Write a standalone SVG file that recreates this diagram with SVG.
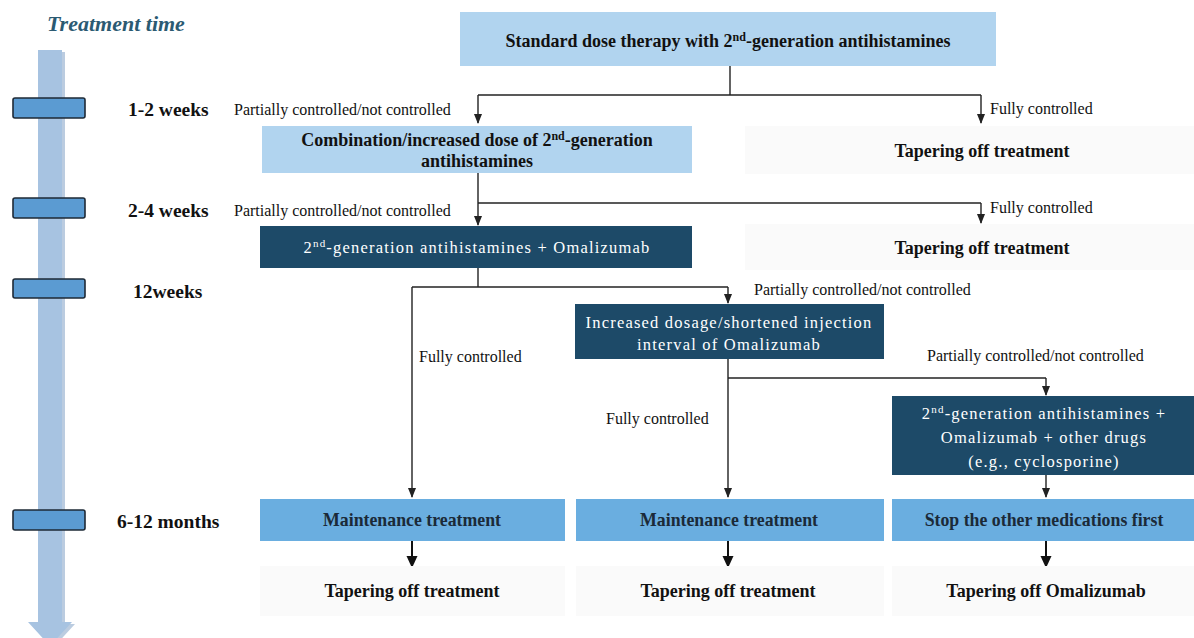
<svg xmlns="http://www.w3.org/2000/svg" width="1194" height="638" viewBox="0 0 1194 638">
<defs>
<style>
text{font-family:"Times New Roman","Liberation Serif","DejaVu Serif",serif;}
.lbl{font-size:16px;fill:#111;}
.b{font-weight:bold;fill:#111;}
.time{font-weight:bold;font-size:19.5px;fill:#111;}
.wt{font-size:16.5px;fill:#fff;letter-spacing:1.2px;}
.light{fill:#b1d4ef;}
.mid{fill:#6aaee0;}
.dark{fill:#1d4a68;}
.ghost{fill:#fafafa;}
.ln{fill:none;stroke:#222;stroke-width:1.4;}
.lnb{fill:none;stroke:#111;stroke-width:2;}
.tick{fill:#5b9bd2;stroke:#1e2a36;stroke-width:1.6;}
.mt{font-weight:bold;font-size:17.8px;fill:#1b2a38;}
</style>
<marker id="ah" markerWidth="10" markerHeight="10" refX="9" refY="5" orient="auto" markerUnits="userSpaceOnUse"><path d="M0,1 L10,5 L0,9 z" fill="#222"/></marker>
<marker id="ahb" markerWidth="12" markerHeight="12" refX="11" refY="6" orient="auto" markerUnits="userSpaceOnUse"><path d="M0,0.5 L12,6 L0,11.5 z" fill="#111"/></marker>
</defs>
<rect width="1194" height="638" fill="#ffffff"/>

<!-- timeline -->
<g id="timeline">
<text x="47" y="31" font-size="22" font-weight="bold" font-style="italic" fill="#2b5a72">Treatment time</text>
<path d="M41,52 H65 V624 H75 L53,648 L31,624 H41 Z" fill="#8eaacb" opacity="0.6"/>
<path d="M38,50 H62 V622 H72 L50,646 L28,622 H38 Z" fill="#a7c3e1"/>
<rect x="13" y="98" width="72" height="20" rx="2" class="tick"/>
<rect x="13" y="198" width="72" height="20" rx="2" class="tick"/>
<rect x="13" y="279" width="72" height="19" rx="2" class="tick"/>
<rect x="13" y="510" width="72" height="20" rx="2" class="tick"/>
<text x="128" y="116" class="time">1-2 weeks</text>
<text x="128" y="217" class="time">2-4 weeks</text>
<text x="133" y="298" class="time">12weeks</text>
<text x="117" y="528" class="time">6-12 months</text>
</g>

<!-- connectors -->
<g id="connectors">
<path class="ln" d="M730,66 V95"/>
<path class="ln" d="M478,95 H981"/>
<path class="ln" d="M478,95 V123" marker-end="url(#ah)"/>
<path class="ln" d="M981,95 V123" marker-end="url(#ah)"/>
<path class="ln" d="M478,173 V203"/>
<path class="ln" d="M478,203 H981"/>
<path class="ln" d="M478,203 V225" marker-end="url(#ah)"/>
<path class="ln" d="M981,203 V223" marker-end="url(#ah)"/>
<path class="ln" d="M478,268 V287"/>
<path class="ln" d="M412,287 H728"/>
<path class="ln" d="M728,287 V303" marker-end="url(#ah)"/>
<path class="ln" d="M412,287 V497" marker-end="url(#ah)"/>
<path class="ln" d="M728,359 V497" marker-end="url(#ah)"/>
<path class="ln" d="M728,378 H1046"/>
<path class="ln" d="M1046,378 V395" marker-end="url(#ah)"/>
<path class="ln" d="M1046,475 V497" marker-end="url(#ah)"/>
<path class="lnb" d="M412,541 V567" marker-end="url(#ahb)"/>
<path class="lnb" d="M728,541 V567" marker-end="url(#ahb)"/>
<path class="lnb" d="M1046,541 V567" marker-end="url(#ahb)"/>
<text x="234" y="115" class="lbl">Partially controlled/not controlled</text>
<text x="990" y="114" class="lbl">Fully controlled</text>
<text x="234" y="216" class="lbl">Partially controlled/not controlled</text>
<text x="990" y="213" class="lbl">Fully controlled</text>
<text x="754" y="295" class="lbl">Partially controlled/not controlled</text>
<text x="419" y="362" class="lbl">Fully controlled</text>
<text x="927" y="361" class="lbl">Partially controlled/not controlled</text>
<text x="606" y="424" class="lbl">Fully controlled</text>
</g>

<g id="n-standard">
<rect x="460" y="12" width="536" height="54" class="light"/>
<text x="728" y="47" class="b" font-size="18" text-anchor="middle">Standard dose therapy with 2<tspan font-size="12" dy="-6">nd</tspan><tspan dy="6">-generation antihistamines</tspan></text>
</g>

<g id="n-combination">
<rect x="262" y="126" width="430" height="47" class="light"/>
<text x="477" y="146" class="b" font-size="18" text-anchor="middle">Combination/increased dose of 2<tspan font-size="12" dy="-6">nd</tspan><tspan dy="6">-generation</tspan></text>
<text x="477" y="167" class="b" font-size="18" text-anchor="middle">antihistamines</text>
</g>

<g id="n-taper1">
<rect x="745" y="126" width="449" height="48" class="ghost"/>
<text x="982" y="157" class="b" font-size="18" text-anchor="middle">Tapering off treatment</text>
</g>

<g id="n-omalizumab">
<rect x="260" y="226" width="432" height="42" class="dark"/>
<text x="477" y="253" class="wt" text-anchor="middle">2<tspan font-size="11" dy="-6">nd</tspan><tspan dy="6">-generation antihistamines + Omalizumab</tspan></text>
</g>

<g id="n-taper2">
<rect x="745" y="224" width="449" height="46" class="ghost"/>
<text x="982" y="254" class="b" font-size="18" text-anchor="middle">Tapering off treatment</text>
</g>

<g id="n-increased">
<rect x="575" y="304" width="309" height="55" class="dark"/>
<text x="729" y="328" class="wt" text-anchor="middle">Increased dosage/shortened injection</text>
<text x="729" y="350" class="wt" text-anchor="middle">interval of Omalizumab</text>
</g>

<g id="n-other">
<rect x="892" y="396" width="302" height="79" class="dark"/>
<text x="1044" y="419" class="wt" text-anchor="middle">2<tspan font-size="11" dy="-6">nd</tspan><tspan dy="6">-generation antihistamines +</tspan></text>
<text x="1044" y="443" class="wt" text-anchor="middle">Omalizumab + other drugs</text>
<text x="1044" y="467" class="wt" text-anchor="middle">(e.g., cyclosporine)</text>
</g>

<g id="n-maint1">
<rect x="260" y="499" width="305" height="42" class="mid"/>
<text x="412" y="526" class="mt" text-anchor="middle">Maintenance treatment</text>
</g>
<g id="n-maint2">
<rect x="576" y="499" width="308" height="42" class="mid"/>
<text x="729" y="526" class="mt" text-anchor="middle">Maintenance treatment</text>
</g>
<g id="n-stop">
<rect x="892" y="499" width="302" height="42" class="mid"/>
<text x="1044" y="526" class="mt" text-anchor="middle">Stop the other medications first</text>
</g>

<g id="n-taper3">
<rect x="260" y="566" width="305" height="50" class="ghost"/>
<text x="412" y="597" class="b" font-size="18" text-anchor="middle">Tapering off treatment</text>
</g>
<g id="n-taper4">
<rect x="576" y="566" width="308" height="50" class="ghost"/>
<text x="728" y="597" class="b" font-size="18" text-anchor="middle">Tapering off treatment</text>
</g>
<g id="n-taper5">
<rect x="892" y="566" width="302" height="50" class="ghost"/>
<text x="1046" y="597" class="b" font-size="18" text-anchor="middle">Tapering off Omalizumab</text>
</g>
</svg>
